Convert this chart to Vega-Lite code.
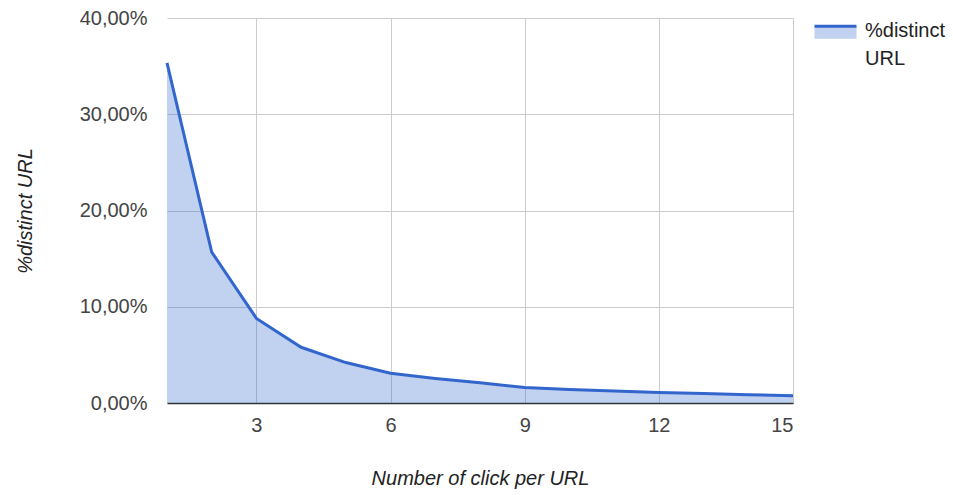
{
  "$schema": "https://vega.github.io/schema/vega-lite/v6.json",
  "width": 626,
  "height": 385,
  "autosize": {"type": "none"},
  "padding": {"left": 167, "top": 18, "right": 160, "bottom": 92},
  "background": "white",
  "data": {
    "values": [
      {"clicks": 1, "pct": 0.3534, "series": "%distinct URL"},
      {"clicks": 2, "pct": 0.1568, "series": "%distinct URL"},
      {"clicks": 3, "pct": 0.0879, "series": "%distinct URL"},
      {"clicks": 4, "pct": 0.0579, "series": "%distinct URL"},
      {"clicks": 5, "pct": 0.042, "series": "%distinct URL"},
      {"clicks": 6, "pct": 0.031, "series": "%distinct URL"},
      {"clicks": 7, "pct": 0.0255, "series": "%distinct URL"},
      {"clicks": 8, "pct": 0.021, "series": "%distinct URL"},
      {"clicks": 9, "pct": 0.0162, "series": "%distinct URL"},
      {"clicks": 10, "pct": 0.014, "series": "%distinct URL"},
      {"clicks": 11, "pct": 0.0125, "series": "%distinct URL"},
      {"clicks": 12, "pct": 0.011, "series": "%distinct URL"},
      {"clicks": 13, "pct": 0.0098, "series": "%distinct URL"},
      {"clicks": 14, "pct": 0.0087, "series": "%distinct URL"},
      {"clicks": 15, "pct": 0.0076, "series": "%distinct URL"}
    ]
  },
  "encoding": {
    "x": {
      "field": "clicks",
      "type": "quantitative",
      "scale": {"domain": [1, 15], "nice": false, "zero": false},
      "axis": {
        "title": "Number of click per URL",
        "values": [3, 6, 9, 12, 15],
        "ticks": false,
        "labelPadding": 12,
        "titlePadding": 33,
        "domainColor": "#333333",
        "domainWidth": 1.5,
        "gridColor": "#cccccc",
        "gridOpacity": 1
      }
    },
    "y": {
      "field": "pct",
      "type": "quantitative",
      "scale": {"domain": [0, 0.4], "nice": false},
      "axis": {
        "title": "%distinct URL",
        "values": [0, 0.1, 0.2, 0.3, 0.4],
        "labelExpr": "replace(format(datum.value, '.2%'), '.', ',')",
        "ticks": false,
        "domain": false,
        "labelPadding": 20,
        "titlePadding": 44,
        "gridColor": "#cccccc",
        "gridOpacity": 1
      }
    }
  },
  "layer": [
    {
      "mark": {"type": "area", "color": "#3366cc", "fillOpacity": 0.3, "opacity": 1}
    },
    {
      "mark": {"type": "line", "strokeWidth": 3},
      "encoding": {
        "stroke": {
          "field": "series",
          "type": "nominal",
          "scale": {"range": ["#3366cc"]},
          "legend": {
            "title": null,
            "orient": "none",
            "legendX": 646,
            "legendY": -8,
            "padding": 0,
            "symbolType": "M-1,-0.3H1V0.3H-1Z",
            "symbolSize": 1764,
            "symbolFillColor": "#c2d1f0",
            "symbolStrokeWidth": 3,
            "symbolDash": [42, 400],
            "labelOffset": 7,
            "labelFontSize": 20,
            "labelColor": "#222222",
            "labelLimit": 200,
            "labelExpr": "['%distinct', 'URL']",
            "encode": {
              "symbols": {
                "update": {
                  "fill": {"value": "#c2d1f0"},
                  "fillOpacity": {"value": 1},
                  "strokeDash": {"value": [42, 400]}
                }
              },
              "labels": {
                "update": {"lineHeight": {"value": 28}, "baseline": {"value": "alphabetic"}, "dy": {"value": 4}}
              }
            }
          }
        }
      }
    }
  ],
  "config": {
    "font": "Liberation Sans",
    "view": {"stroke": null},
    "axis": {
      "labelFont": "Liberation Sans",
      "labelFontSize": 20,
      "labelColor": "#444444",
      "titleFont": "Liberation Sans",
      "titleFontSize": 20,
      "titleFontStyle": "italic",
      "titleFontWeight": "normal",
      "titleColor": "#222222"
    },
    "legend": {"labelFont": "Liberation Sans"}
  }
}
